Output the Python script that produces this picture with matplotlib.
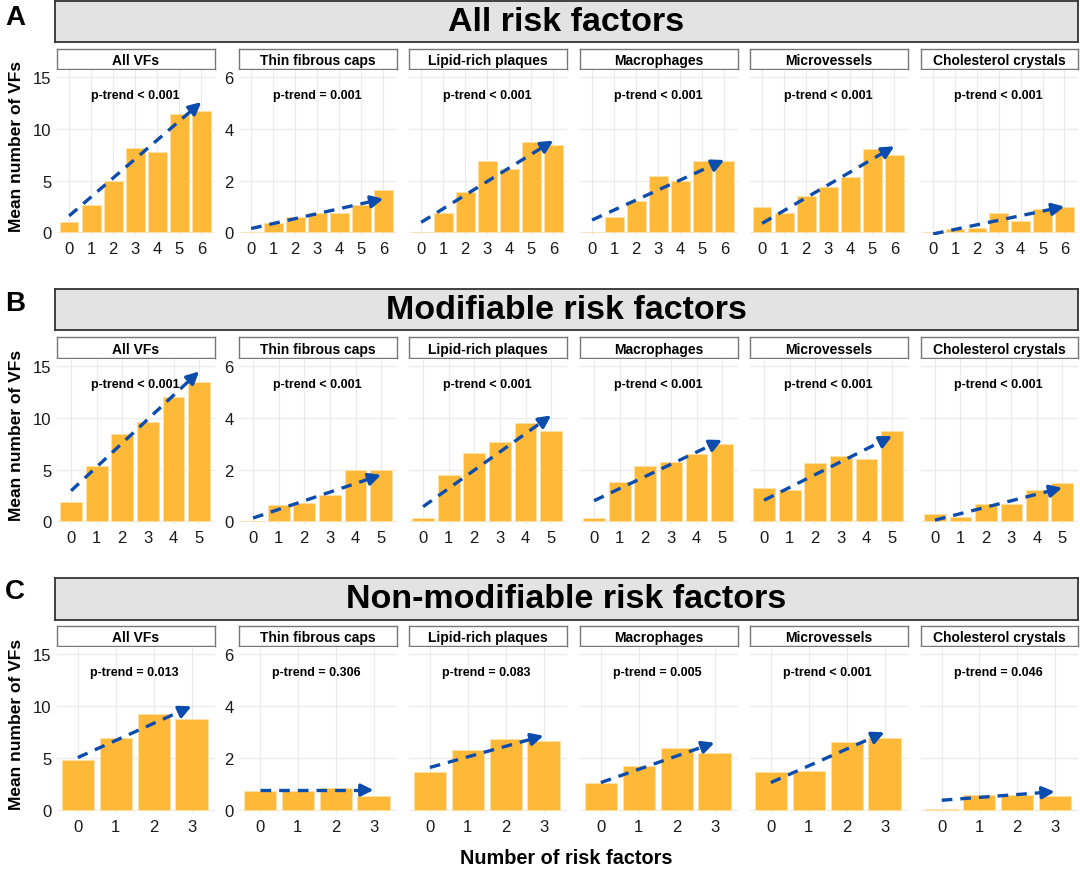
import numpy as np
import matplotlib
matplotlib.use("Agg")
import matplotlib.pyplot as plt

plt.rcParams['font.family'] = ['Liberation Sans', 'DejaVu Sans']

panels = ["All VFs", "Thin fibrous caps", "Lipid-rich plaques",
          "Macrophages", "Microvessels", "Cholesterol crystals"]
row_titles = ["All risk factors", "Modifiable risk factors", "Non-modifiable risk factors"]
row_letters = ["A", "B", "C"]
x_label = "Number of risk factors"
y_label = "Mean number of VFs"

# risk factor counts per row
cats_a = [0, 1, 2, 3, 4, 5, 6]
cats_b = [0, 1, 2, 3, 4, 5]
cats_c = [0, 1, 2, 3]

# A: all risk factors
vf_a = [0.97, 2.65, 5.0, 8.19, 7.8, 11.45, 11.77]
tfc_a = [0, 0.37, 0.6, 0.75, 0.76, 1.06, 1.63]
lrp_a = [0, 0.75, 1.57, 2.75, 2.44, 3.5, 3.38]
mac_a = [0, 0.61, 1.21, 2.17, 2.0, 2.75, 2.75]
mv_a = [0.99, 0.75, 1.42, 1.75, 2.14, 3.21, 2.99]
cc_a = [0, 0.12, 0.17, 0.75, 0.45, 0.89, 0.99]
trend_a = [(1.6, 12.6), (0.15, 1.3), (0.39, 3.55), (0.48, 2.8), (0.35, 3.33), (-0.06, 1.0)]
p_a = ["p-trend < 0.001", "p-trend = 0.001", "p-trend < 0.001",
       "p-trend < 0.001", "p-trend < 0.001", "p-trend < 0.001"]

# B: modifiable risk factors
vf_b = [1.83, 5.37, 8.42, 9.6, 12.0, 13.5]
tfc_b = [0, 0.64, 0.72, 1.03, 1.99, 1.99]
lrp_b = [0.13, 1.8, 2.65, 3.06, 3.79, 3.5]
mac_b = [0.13, 1.53, 2.15, 2.3, 2.61, 3.01]
mv_b = [1.29, 1.21, 2.25, 2.52, 2.4, 3.51]
cc_b = [0.27, 0.18, 0.68, 0.69, 1.2, 1.5]
trend_b = [(2.96, 14.5), (0.13, 1.8), (0.57, 4.1), (0.8, 3.15), (0.82, 3.3), (0.05, 1.3)]
p_b = ["p-trend < 0.001"] * 6

# C: non-modifiable risk factors
vf_c = [4.89, 6.95, 9.26, 8.78]
tfc_c = [0.73, 0.75, 0.87, 0.54]
lrp_c = [1.49, 2.34, 2.76, 2.66]
mac_c = [1.07, 1.71, 2.4, 2.21]
mv_c = [1.49, 1.52, 2.62, 2.78]
cc_c = [0.06, 0.59, 0.59, 0.54]
trend_c = [(5.08, 10.0), (0.78, 0.78), (1.65, 2.87), (1.07, 2.6), (1.07, 3.0), (0.39, 0.72)]
p_c = ["p-trend = 0.013", "p-trend = 0.306", "p-trend = 0.083",
       "p-trend = 0.005", "p-trend < 0.001", "p-trend = 0.046"]

rows = [
    (cats_a, [vf_a, tfc_a, lrp_a, mac_a, mv_a, cc_a], trend_a, p_a),
    (cats_b, [vf_b, tfc_b, lrp_b, mac_b, mv_b, cc_b], trend_b, p_b),
    (cats_c, [vf_c, tfc_c, lrp_c, mac_c, mv_c, cc_c], trend_c, p_c),
]

BAR = "#FFB938"
BLUE = "#0B4CAD"
GRID = "#EBEBEB"

W, H = 1080, 870
fig = plt.figure(figsize=(10.8, 8.7), dpi=100)

def fbox(x0, y0, x1, y1):
    # pixel box (top-left origin) -> figure fraction rect
    return [x0 / W, 1 - y1 / H, (x1 - x0) / W, (y1 - y0) / H]

col_x = [(57, 215), (239, 397), (409, 567), (580, 738), (750, 908), (921, 1078)]
row_y = [(71, 236), (360, 525), (648, 814)]
strip_y = [(50, 70), (338, 359), (627, 647)]
banner_y = [(2, 43), (290, 331), (579, 621)]
letter_y = [18, 304, 592]

for r, (cats, series, trends, pvals) in enumerate(rows):
    # banner
    bax = fig.add_axes(fbox(55, banner_y[r][0], 1078, banner_y[r][1]))
    bax.set_facecolor("#E3E3E3")
    bax.set_xticks([])
    bax.set_yticks([])
    for s in bax.spines.values():
        s.set_color("#333333")
        s.set_linewidth(1.3)
    bax.text(0.5, 0.5, row_titles[r], ha="center", va="center",
             fontsize=24.5, fontweight="bold", transform=bax.transAxes)
    fig.text(15 / W, 1 - letter_y[r] / H, row_letters[r], ha="center", va="center",
             fontsize=20, fontweight="bold")

    for c in range(6):
        x0, x1 = col_x[c]
        # strip
        sax = fig.add_axes(fbox(x0, strip_y[r][0], x1, strip_y[r][1]))
        sax.set_xticks([])
        sax.set_yticks([])
        for s in sax.spines.values():
            s.set_color("#777777")
            s.set_linewidth(1.0)
        sax.text(0.5, 0.45, panels[c], ha="center", va="center",
                 fontsize=10, fontweight="bold", transform=sax.transAxes)

        ax = fig.add_axes(fbox(x0, row_y[r][0], x1, row_y[r][1]))
        vals = series[c]
        ax.bar(cats, vals, width=0.85, color=BAR, edgecolor="#FFE2A6",
               linewidth=0.6, zorder=2)

        t0, t1 = trends[c]
        xs, xe = cats[0], cats[-1]
        # dashed body, then the head
        frac = 0.92
        xm = xs + (xe - xs) * frac
        ym = t0 + (t1 - t0) * frac
        ax.plot([xs, xm], [t0, ym], color=BLUE, lw=2.4, dashes=(3.2, 2.4),
                solid_capstyle="butt", zorder=3)
        ax.annotate("", xy=(xe, t1), xytext=(xm, ym),
                    arrowprops=dict(arrowstyle="-|>", color=BLUE, lw=2.4,
                                    mutation_scale=18, shrinkA=0, shrinkB=0),
                    zorder=4)

        if c == 0:
            ax.set_ylim(-0.25, 15.7)
            ax.set_yticks([0, 5, 10, 15])
            ptxt_y = 13.3
        else:
            ax.set_ylim(-0.1, 6.28)
            ax.set_yticks([0, 2, 4, 6])
            ptxt_y = 5.32
        ax.text(np.mean([cats[0], cats[-1]]), ptxt_y, pvals[c], ha="center",
                va="center", fontsize=9, fontweight="bold", zorder=5)

        ax.set_xlim(cats[0] - 0.55, cats[-1] + 0.62)
        ax.set_xticks(cats)
        ax.set_xticklabels([str(v) for v in cats])
        if c > 1:
            ax.set_yticklabels([])
        ax.grid(True, color=GRID, lw=0.9, zorder=0)
        ax.set_axisbelow(True)
        for s in ax.spines.values():
            s.set_visible(False)
        ax.tick_params(length=0, labelsize=12, colors="#1a1a1a", pad=4)

    yc = (row_y[r][0] + row_y[r][1]) / 2 - 7
    fig.text(17 / W, 1 - yc / H, y_label, rotation=90, ha="center", va="center",
             fontsize=12.5, fontweight="bold")

fig.text(566 / W, 1 - 859 / H, x_label, ha="center", va="center",
         fontsize=14.3, fontweight="bold")

fig.savefig("out.png", dpi=100)
